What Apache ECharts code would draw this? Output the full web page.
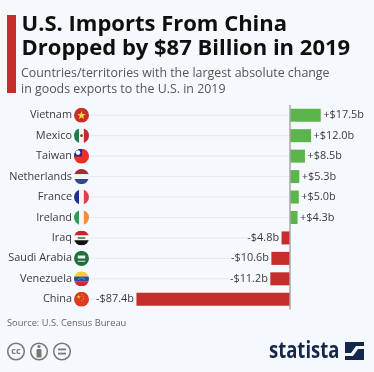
<!DOCTYPE html>
<html><head><meta charset="utf-8">
<style>html,body{margin:0;padding:0;background:#f5f8fc}#c{width:374px;height:372px}</style>
<script src="https://cdn.jsdelivr.net/npm/echarts@6/dist/echarts.min.js"></script>
</head><body><div id="c"></div>
<script>
const categories = ['Vietnam','Mexico','Taiwan','Netherlands','France','Ireland','Iraq','Saudi Arabia','Venezuela','China'];
const changes = [17.5,12.0,8.5,5.3,5.0,4.3,-4.8,-10.6,-11.2,-87.4];
const flagKeys = ['vn','mx','tw','nl','fr','ie','iq','sa','ve','cn'];
const titleLines = 'U.S. Imports From China\nDropped by $87 Billion in 2019';
const subtitleLines = 'Countries/territories with the largest absolute change\nin goods exports to the U.S. in 2019';
const sourceText = 'Source: U.S. Census Bureau';

const FONT = '"Open Sans", sans-serif';
const RED = '#c42d29', GREEN = '#5cb54c', BG = '#f5f8fc';
const star = (cx,cy,r,f)=>{let p=[];for(let i=0;i<10;i++){const a=-Math.PI/2+i*Math.PI/5,q=i%2?r*0.4:r;p.push((cx+q*Math.cos(a)).toFixed(2)+','+(cy+q*Math.sin(a)).toFixed(2));}return `<polygon points="${p.join(' ')}" fill="${f}"/>`;};
const rect=(x,y,w,h,f)=>`<rect x="${x}" y="${y}" width="${w}" height="${h}" fill="${f}"/>`;
const flagArt = {
  vn: rect(0,0,32,32,'#c8312a')+star(16,16.5,9.5,'#fbd746'),
  mx: rect(0,0,11,32,'#1f7a4d')+rect(11,0,10,32,'#f4f4f0')+rect(21,0,11,32,'#c22b36')+'<circle cx="16" cy="16" r="3" fill="#6e4b22"/>',
  tw: rect(0,0,32,32,'#e8321f')+rect(0,0,17,17,'#1a2c9c')+'<circle cx="8.5" cy="8.5" r="5" fill="#fff"/>',
  nl: rect(0,0,32,11,'#a32b33')+rect(0,11,32,10,'#f4f4f4')+rect(0,21,32,11,'#2c4a8c'),
  fr: rect(0,0,11,32,'#1d2f93')+rect(11,0,10,32,'#f6f6f6')+rect(21,0,11,32,'#e2404a'),
  ie: rect(0,0,11,32,'#2f9a5a')+rect(11,0,10,32,'#f6f6f6')+rect(21,0,11,32,'#f28d3c'),
  iq: rect(0,0,32,11,'#c4252e')+rect(0,11,32,10,'#f6f6f6')+rect(0,21,32,11,'#111')+rect(8,14.5,16,3,'#2a7a3a'),
  sa: rect(0,0,32,32,'#1f6e3c')+rect(8,10,16,6,'#e6efe8')+rect(8,21,16,2,'#e6efe8'),
  ve: rect(0,0,32,11,'#f6cf2e')+rect(0,11,32,10,'#2a4a9c')+rect(0,21,32,11,'#c8283a')+'<path d="M9 18 Q16 10 23 18" fill="none" stroke="#fff" stroke-width="1.6" stroke-dasharray="1.5 1.5"/>',
  cn: rect(0,0,32,32,'#dd3a1e')+star(10,11,5,'#f6c63a')+star(17,6,1.7,'#f6c63a')+star(20,10,1.7,'#f6c63a')+star(20,15,1.7,'#f6c63a')+star(17,19,1.7,'#f6c63a')
};
const flagUri = k => 'data:image/svg+xml;charset=utf-8,'+encodeURIComponent(
 `<svg xmlns="http://www.w3.org/2000/svg" width="64" height="64" viewBox="0 0 32 32"><defs><clipPath id="a"><circle cx="16" cy="16" r="16"/></clipPath></defs><g clip-path="url(#a)">${flagArt[k]}</g></svg>`);
const fmt = v => (v>0?'+':'-')+'$'+Math.abs(v).toFixed(1)+'b';
const rich = {name:{fontFamily:FONT,fontSize:10.9,color:'#3a3a3a',padding:[0,2,0,0]}};
flagKeys.forEach(k=>{rich[k]={width:15,height:15,backgroundColor:{image:flagUri(k)}};});

const chart = echarts.init(document.getElementById('c'),null,{renderer:'canvas'});
chart.setOption({
  backgroundColor:BG, animation:false,
  grid:{left:89.7,width:270.6,top:105,height:204.5,containLabel:false},
  xAxis:{type:'value',min:-114,max:40,show:false},
  yAxis:{type:'category',inverse:true,data:categories,
    axisLine:{show:false,onZero:false},axisTick:{show:false},splitLine:{show:false},
    axisLabel:{margin:0.7,formatter:(v,i)=>`{name|${v}}{${flagKeys[i]}|}`,rich}},
  series:[
   {type:'custom',z:1,silent:true,data:categories.map((c,i)=>i),encode:{y:0},
    renderItem:(p,api)=>{const y=api.coord([0,api.value(0)])[1];
      return {type:'line',shape:{x1:p.coordSys.x,y1:y,x2:api.coord([0,0])[0],y2:y},style:{stroke:'#e6e9ee',lineWidth:1}};}},
   {type:'bar',z:3,barWidth:13,data:changes.map(v=>({value:v,itemStyle:{color:v>0?GREEN:RED},
      label:{position:v>0?'right':'left'}})),
    label:{show:true,distance:1.5,formatter:p=>fmt(p.value),fontFamily:FONT,fontSize:10.9,color:'#3a3a3a',backgroundColor:BG,padding:[1,1]},
    markLine:{silent:true,symbol:'none',label:{show:false},z:5,lineStyle:{color:'#a9a9a9',width:1.5,type:'solid'},data:[{xAxis:0}]}}
  ],
  graphic:[
   {type:'rect',shape:{x:7,y:15,width:9,height:78},style:{fill:RED}},
   {type:'text',x:21.5,y:12.7,style:{text:titleLines,font:'700 22px '+FONT,lineHeight:24,fill:'#0f0f0f'}},
   {type:'text',x:21,y:66,style:{text:subtitleLines,font:'12.4px '+FONT,lineHeight:15.5,fill:'#555'}},
   {type:'text',x:7,y:319,style:{text:sourceText,font:'9.3px '+FONT,fill:'#666'}},
   {type:'circle',shape:{cx:16,cy:351.5,r:8.3},style:{fill:'none',stroke:'#777',lineWidth:1.5}},
   {type:'text',x:16,y:351.5,style:{text:'cc',font:'700 9px '+FONT,fill:'#777',align:'center',verticalAlign:'middle'}},
   {type:'circle',shape:{cx:39,cy:351.5,r:8.3},style:{fill:'none',stroke:'#777',lineWidth:1.5}},
   {type:'circle',shape:{cx:39,cy:346.5,r:1.6},style:{fill:'#777'}},
   {type:'rect',shape:{x:36.5,y:349,width:5,height:8.5,r:1},style:{fill:'#777'}},
   {type:'circle',shape:{cx:62,cy:351.5,r:8.3},style:{fill:'none',stroke:'#777',lineWidth:1.5}},
   {type:'rect',shape:{x:58,y:348.5,width:8,height:1.8},style:{fill:'#777'}},
   {type:'rect',shape:{x:58,y:352.7,width:8,height:1.8},style:{fill:'#777'}},
   {type:'text',x:269,y:339,scaleX:0.77,style:{text:'statista',font:'700 24px "Open Sans", sans-serif',fill:'#14284b'}},
   {type:'rect',shape:{x:345,y:342,width:19,height:18},style:{fill:'#14284b'}},
   {type:'polygon',shape:{points:[[345,353],[351,353],[356,346],[364,346],[364,349],[358,349],[353,356],[345,356]]},style:{fill:BG}}
  ]
});
</script></body></html>
